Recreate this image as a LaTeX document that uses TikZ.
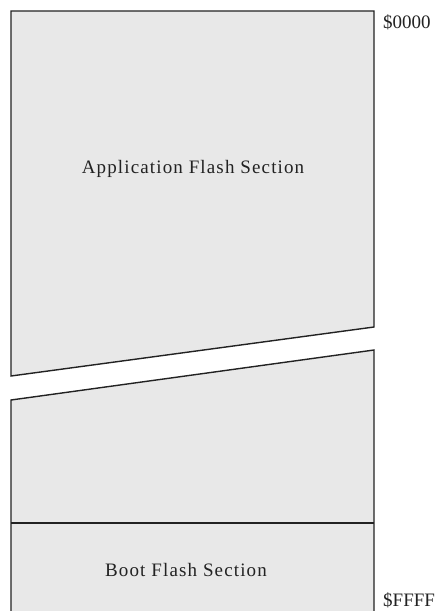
\documentclass[tikz,border=0pt]{standalone}
\usepackage{fontspec}
\setmainfont{Liberation Serif}
\definecolor{flashgray}{HTML}{E8E8E8}
\definecolor{edgegray}{HTML}{222222}

\begin{document}
\begin{tikzpicture}[
  x=1pt, y=-1pt,
  flash_part/.style={draw=edgegray, fill=flashgray, line width=1.4pt, line join=miter},
  addr_label/.style={right, inner sep=0pt, text=edgegray, font=\fontsize{19}{22}\selectfont},
  section_label/.style={inner sep=0pt, text=edgegray, font=\fontsize{19}{22}\selectfont\addfontfeature{LetterSpace=6}},
]
\clip (0,0) rectangle (435,611);
\draw[flash_part] (11,11) -- (374,11) -- (374,327) -- (11,376) -- cycle;
\draw[flash_part] (11,630) -- (11,400) -- (374,350) -- (374,630);
\draw[flash_part] (11,523) -- (374,523);
\draw (193,169) node (app) [section_label] {Application Flash Section};
\draw (186,570) node (boot) [section_label] {Boot Flash Section};
\draw (383,22) node (top) [addr_label] {\$0000};
\draw (383,600) node (bottom) [addr_label] {\$FFFF};
\end{tikzpicture}
\end{document}
